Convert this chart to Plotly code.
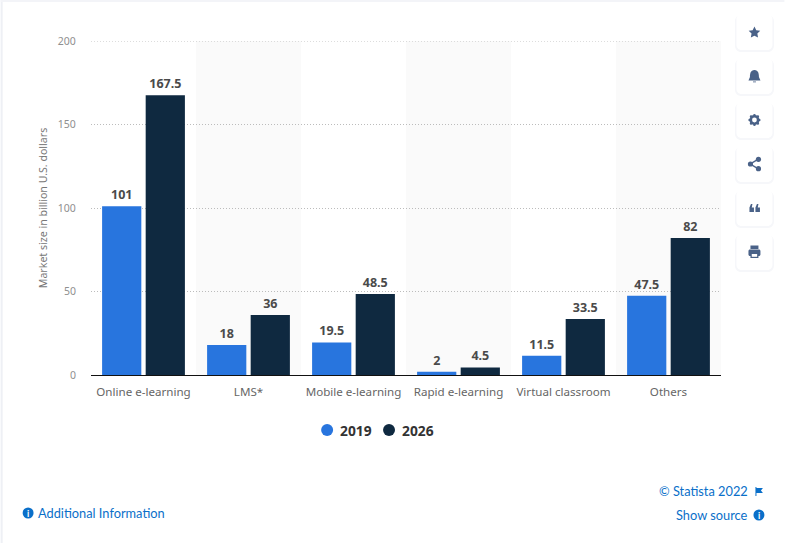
import plotly.graph_objects as go

categories = ["Online e-learning", "LMS*", "Mobile e-learning", "Rapid e-learning", "Virtual classroom", "Others"]
values_2019 = [101, 18, 19.5, 2, 11.5, 47.5]
values_2026 = [167.5, 36, 48.5, 4.5, 33.5, 82]
series_names = ["2019", "2026"]
colors = ["#2875de", "#0f2940"]

W, H = 785, 543
L, R, T, B = 90.5, 721.5, 41, 375
FONT = "'Noto Sans', 'Open Sans', sans-serif"
LINKFONT = "Lato, sans-serif"
ICON = "#4a6288"
LINK = "#0a6fc9"

def px(x):
    return (x - L) / (R - L)

def py(y):
    return (B - y) / (B - T)

def path(cmds):
    out = []
    for c in cmds:
        if c[0] == "Z":
            out.append("Z")
        else:
            out.append(f"{c[0]} {px(c[1]):.5f} {py(c[2]):.5f}")
    return " ".join(out)

def poly(points):
    return path([("M", *points[0])] + [("L", *p) for p in points[1:]] + [("Z",)])

def rrect(x0, y0, x1, y1, r):
    k = 0.45 * r
    s = f"M {px(x0+r):.5f} {py(y0):.5f} L {px(x1-r):.5f} {py(y0):.5f} "
    s += f"C {px(x1-k):.5f} {py(y0):.5f} {px(x1):.5f} {py(y0+k):.5f} {px(x1):.5f} {py(y0+r):.5f} "
    s += f"L {px(x1):.5f} {py(y1-r):.5f} C {px(x1):.5f} {py(y1-k):.5f} {px(x1-k):.5f} {py(y1):.5f} {px(x1-r):.5f} {py(y1):.5f} "
    s += f"L {px(x0+r):.5f} {py(y1):.5f} C {px(x0+k):.5f} {py(y1):.5f} {px(x0):.5f} {py(y1-k):.5f} {px(x0):.5f} {py(y1-r):.5f} "
    s += f"L {px(x0):.5f} {py(y0+r):.5f} C {px(x0):.5f} {py(y0+k):.5f} {px(x0+k):.5f} {py(y0):.5f} {px(x0+r):.5f} {py(y0):.5f} Z"
    return s

def pshape(p, fill, layer="above"):
    return dict(type="path", xref="paper", yref="paper", path=p, fillcolor=fill, line_width=0, layer=layer)

def circle(cx, cy, r, fill, layer="above"):
    return dict(type="circle", xref="paper", yref="paper", x0=px(cx - r), x1=px(cx + r),
                y0=py(cy + r), y1=py(cy - r), fillcolor=fill, line_width=0, layer=layer)

fig = go.Figure()
for name, vals, col in zip(series_names, [values_2019, values_2026], colors):
    fig.add_trace(go.Bar(
        x=categories, y=vals, name=name, marker=dict(color=col, line_width=0),
        text=[str(v) for v in vals], textposition="outside", textangle=0,
        textfont=dict(family=FONT, size=12.5, color="#4a4a4a", weight="bold"),
        cliponaxis=False, showlegend=False, hoverinfo="x+y",
    ))

shapes = []
# alternating category bands
for i, _ in enumerate(categories):
    if i % 2 == 1:
        shapes.append(dict(type="rect", xref="x", yref="paper", x0=i - 0.5, x1=i + 0.5, y0=0, y1=1,
                           fillcolor="#fafafa", line_width=0, layer="below"))

GRID_DASH = "1px,2px"
GRID_COLOR = "#bcbcbc"
# top gridline sits on the range edge, where plotly omits it
shapes.append(dict(type="line", xref="paper", yref="y", x0=0, x1=1, y0=200, y1=200,
                   line=dict(color=GRID_COLOR, width=1, dash=GRID_DASH), layer="below"))

# page frame
shapes.append(dict(type="rect", xref="paper", yref="paper", x0=px(0), x1=px(2), y0=py(H), y1=py(0),
                   fillcolor="#eef0f5", line_width=0, layer="below"))
shapes.append(dict(type="rect", xref="paper", yref="paper", x0=px(0), x1=px(W), y0=py(2), y1=py(0),
                   fillcolor="#f3f4f8", line_width=0, layer="below"))

# toolbar buttons
centers = [32, 76, 120, 164, 208, 252]
for cy in centers:
    shapes.append(pshape(rrect(735.5, cy - 17, 774.5, cy + 20, 6), "#f6f7fa"))
    shapes.append(pshape(rrect(737, cy - 18, 773, cy + 18, 5), "#ffffff"))

# star
shapes.append(pshape(poly([(755, 26.5), (756.8, 30.3), (760.8, 30.8), (757.9, 33.6), (758.6, 37.6),
                           (755, 35.7), (751.4, 37.6), (752.1, 33.6), (749.2, 30.8), (753.2, 30.3)]), ICON))
# bell
shapes.append(pshape(
    f"M {px(755):.5f} {py(70):.5f} C {px(759):.5f} {py(70):.5f} {px(759.5):.5f} {py(74):.5f} {px(759.5):.5f} {py(77):.5f}"
    f" L {px(761):.5f} {py(80.5):.5f} L {px(749):.5f} {py(80.5):.5f} L {px(750.5):.5f} {py(77):.5f}"
    f" C {px(750.5):.5f} {py(74):.5f} {px(751):.5f} {py(70):.5f} {px(755):.5f} {py(70):.5f} Z", ICON))
shapes.append(pshape(poly([(753.5, 81.5), (756.5, 81.5), (756.5, 82.3), (753.5, 82.3)]), ICON))
# gear
shapes.append(circle(755, 120, 5, ICON))
for dx, dy in [(0, -4.8), (0, 4.8), (-4.8, 0), (4.8, 0), (-3.4, -3.4), (3.4, -3.4), (-3.4, 3.4), (3.4, 3.4)]:
    shapes.append(circle(755 + dx, 120 + dy, 1.3, ICON))
shapes.append(circle(755, 120, 2.4, "#ffffff"))
# share
shapes.append(pshape(poly([(750.6, 163.2), (758.6, 158.6), (759.2, 159.8), (751.2, 164.4)]), ICON))
shapes.append(pshape(poly([(751.2, 163.6), (759.2, 168.2), (758.6, 169.4), (750.6, 164.8)]), ICON))
shapes.append(circle(751, 164, 2.6, ICON))
shapes.append(circle(759, 159.3, 2.6, ICON))
shapes.append(circle(759, 168.7, 2.6, ICON))
# quote
for x0 in (750, 756):
    shapes.append(pshape(poly([(x0, 207.5), (x0 + 1.5, 204), (x0 + 3, 204), (x0 + 2.3, 207.5), (x0 + 4.5, 207.5),
                               (x0 + 4.5, 212), (x0, 212)]), ICON))
# printer
shapes.append(pshape(poly([(751, 245.5), (759, 245.5), (759, 249), (751, 249)]), ICON))
shapes.append(pshape(rrect(749, 249.5, 761, 256, 1.5), ICON))
shapes.append(pshape(poly([(751, 253), (759, 253), (759, 258), (751, 258)]), ICON))
shapes.append(pshape(poly([(752.3, 254), (757.7, 254), (757.7, 256.8), (752.3, 256.8)]), "#ffffff"))

# info icons
shapes.append(circle(27.5, 513, 5.5, LINK))
shapes.append(circle(759.5, 515, 5.5, LINK))
# flag
shapes.append(pshape(poly([(756, 487), (757, 487), (757, 488), (763.5, 488), (761.5, 490.5), (763.5, 493),
                           (757, 493), (757, 496), (756, 496)]), LINK))

def note(x, y, text, color=LINK, size=12.8, anchor="left", weight=None, family=LINKFONT):
    return dict(xref="paper", yref="paper", x=px(x), y=py(y), text=text, showarrow=False,
                xanchor=anchor, yanchor="middle", borderpad=0, borderwidth=0,
                font=dict(family=family, size=size, color=color, weight=weight))

annotations = [
    note(37, 513, "Additional Information"),
    note(749, 491, "© Statista 2022", anchor="right"),
    note(749, 515, "Show source", anchor="right"),
    note(27.5, 513, "i", color="#ffffff", size=9, anchor="center", weight="bold"),
    note(759.5, 515, "i", color="#ffffff", size=9, anchor="center", weight="bold"),
]

# legend entries
legend_marker_x = [327, 389]
for name, col, lx in zip(series_names, colors, legend_marker_x):
    shapes.append(circle(lx, 430, 6, col))
    annotations.append(note(lx + 12.5, 430, name, color="#333333", size=13.8, weight="bold", family=FONT))

fig.update_layout(
    width=W, height=H, autosize=False,
    margin=dict(l=L, r=W - R, t=T, b=H - B, pad=0),
    paper_bgcolor="#ffffff", plot_bgcolor="rgba(0,0,0,0)",
    barmode="group", bargap=0.17, bargroupgap=0.1,
    font=dict(family=FONT), showlegend=False,
    shapes=shapes, annotations=annotations,
    xaxis=dict(type="category", range=[-0.5, 5.5], showgrid=False, showline=True, linecolor="#111111", linewidth=1,
               ticks="outside", ticklen=6, tickcolor="rgba(0,0,0,0)",
               tickfont=dict(family=FONT, size=11.6, color="#666666"), fixedrange=True),
    yaxis=dict(range=[0, 200], tickvals=[0, 50, 100, 150, 200], showgrid=True, gridcolor=GRID_COLOR,
               griddash=GRID_DASH, gridwidth=1, zeroline=False, showline=False,
               ticks="outside", ticklen=12, tickcolor="rgba(0,0,0,0)",
               tickfont=dict(family=FONT, size=10.5, color="#8f8f8f"),
               title=dict(text="Market size in billion U.S. dollars", standoff=8,
                          font=dict(family=FONT, size=10.6, color="#777777")), fixedrange=True),
)

fig.write_html("out.html", config=dict(displayModeBar=False),
               post_script="document.body.style.margin='0';")
